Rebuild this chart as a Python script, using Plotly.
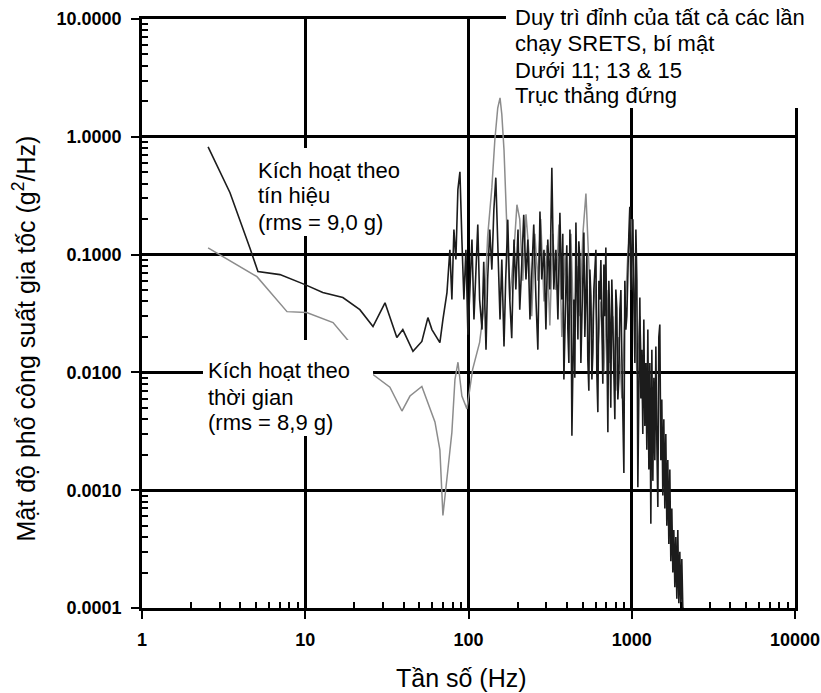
import plotly.graph_objects as go

# Signal-triggered run (black trace): frequency in Hz, PSD in g^2/Hz
sig_freq = [2.54, 3.46, 4.58, 5.13, 7.0, 9.97, 12.8, 17.0, 21.6, 26.0, 30.8, 36.4,
            39.6, 45.7, 51.8, 56.4, 59.7, 66.8, 69.7, 73.8,
            76.9, 79.1, 81.4, 83.7, 86.1, 88.6, 91.1, 93.7, 96.4, 99.2, 102, 105,
            108, 111, 114, 117, 121, 124, 128, 131, 135, 139, 143, 147, 151, 156,
            160, 165, 169, 174, 179, 184, 190, 195, 201, 206, 212, 218, 225, 231,
            238, 244, 251, 259, 266, 274, 281, 290, 298, 306, 315, 324, 333, 343,
            353,
            363, 368, 373, 378, 384, 389, 395, 400, 406, 412, 418, 424, 430, 436,
            442, 448, 455, 461, 468, 474, 481, 488, 495, 502, 509, 516, 524, 531,
            538, 546, 554, 562, 570, 578, 586, 594, 603, 611, 620, 629, 638, 647,
            656, 665, 675, 684, 694, 704, 714, 724, 734, 744, 755, 766, 777, 788,
            799, 810, 822, 834, 846, 858, 870, 882, 895, 907, 920, 933, 946, 960,
            973, 987, 1002, 1016, 1030, 1045, 1060, 1075, 1090, 1105,
            1121, 1137, 1153, 1169, 1186, 1203, 1220, 1237, 1255, 1273, 1291, 1309,
            1328, 1347, 1366, 1385, 1405, 1425, 1445, 1465, 1486, 1507, 1528, 1550,
            1572, 1594, 1617, 1640, 1663, 1687, 1711, 1735, 1760, 1785, 1810, 1836,
            1862, 1888, 1915, 1942, 1970, 1998, 2026, 2055, 2084]
sig_psd = [0.82, 0.335, 0.114, 0.0717, 0.0676, 0.0556, 0.0476, 0.0432, 0.0341, 0.0245,
           0.039, 0.0198, 0.0231, 0.0151, 0.0183, 0.0292, 0.0231, 0.0179, 0.0281, 0.0476,
           0.11, 0.0415, 0.163, 0.091, 0.356, 0.505, 0.134, 0.0415, 0.11, 0.0209, 0.0505,
           0.134, 0.0281, 0.0746, 0.18, 0.0415, 0.0231, 0.087, 0.0156, 0.0614, 0.163,
           0.0746, 0.24, 0.45, 0.11, 0.0281, 0.091, 0.0166, 0.0614, 0.198, 0.0415,
           0.0195, 0.134, 0.0505, 0.163, 0.0341, 0.0823, 0.218, 0.0614, 0.134, 0.0281,
           0.0746, 0.18, 0.0415, 0.0156, 0.232, 0.0614, 0.11, 0.0231, 0.134, 0.0505,
           0.545, 0.0505, 0.11, 0.0281,
           0.227, 0.06, 0.0415, 0.15, 0.0087, 0.02, 0.091, 0.12, 0.0231, 0.012,
           0.163, 0.07, 0.0029, 0.025, 0.0415, 0.009, 0.187, 0.06, 0.019, 0.13,
           0.091, 0.012, 0.0341, 0.08, 0.154, 0.02, 0.0415, 0.1, 0.0129, 0.007,
           0.0746, 0.045, 0.0087, 0.015, 0.0505, 0.07, 0.11, 0.01, 0.0046, 0.06,
           0.0415, 0.09, 0.0156, 0.008, 0.0823, 0.03, 0.115, 0.012, 0.0031, 0.06,
           0.0281, 0.005, 0.0614, 0.025, 0.0087, 0.004, 0.0505, 0.035, 0.0059, 0.009,
           0.0341, 0.05, 0.0129, 0.003, 0.0014, 0.06, 0.0231, 0.03, 0.091, 0.15,
           0.255, 0.05, 0.11, 0.2, 0.0415, 0.012, 0.163, 0.06, 0.00106, 0.005,
           0.0432, 0.006, 0.0156, 0.003, 0.0281, 0.0035,
           0.012, 0.0022, 0.0231, 0.0015, 0.012, 0.00052, 0.0156, 0.0012, 0.009, 0.0018,
           0.0166, 0.0025, 0.00072, 0.02, 0.0255, 0.0018, 0.0059, 0.0009, 0.004, 0.0007,
           0.003, 0.0005, 0.0018, 0.00035, 0.0015, 0.00025, 0.0007, 0.0002, 0.00046,
           0.00015, 0.0004, 0.00012, 0.00046, 0.00011, 0.0003, 0.0001, 0.00026, 0.0001,
           0.0001]

# Time-triggered run (grey trace)
time_freq = [2.54, 5.06, 7.73, 10.2, 14.8, 21.6, 26.0, 33.0, 39.1, 43.8, 51.8, 55.6,
             62.3, 66.8, 69.7, 74.8, 79.1, 82.6, 86.2, 91.1, 97.8, 106, 117, 126, 131,
             139, 145, 151, 156, 160, 165, 172, 179, 190, 198, 206, 215, 225, 235, 244,
             255, 266, 277, 290, 302, 315, 328, 343, 358, 373, 390, 406, 424, 442, 461,
             481, 502, 524, 546, 570, 594, 620, 647, 675, 704, 734, 766, 799, 834, 870,
             907, 946, 987, 1030, 1075, 1121, 1169, 1220, 1273]
time_psd = [0.114, 0.065, 0.0328, 0.0322, 0.0265, 0.0142, 0.0096, 0.0075, 0.0047, 0.0063,
            0.0076, 0.0059, 0.0038, 0.0022, 0.00061, 0.0015, 0.0031, 0.0087, 0.0122, 0.0063,
            0.0049, 0.0106, 0.018, 0.0415, 0.142, 0.37, 0.94, 1.75, 2.14, 1.55, 0.775,
            0.163, 0.0415, 0.11, 0.265, 0.2, 0.06, 0.22, 0.1, 0.03, 0.15, 0.06, 0.2, 0.04,
            0.12, 0.025, 0.15, 0.05, 0.18, 0.02, 0.1, 0.04, 0.15, 0.02, 0.08, 0.03, 0.15,
            0.33, 0.08, 0.02, 0.06, 0.015, 0.04, 0.01, 0.05, 0.012, 0.03, 0.007, 0.02,
            0.006, 0.03, 0.1, 0.2, 0.05, 0.01, 0.03, 0.005, 0.012, 0.004]

x_ticks = [1, 10, 100, 1000, 10000]
x_tick_text = ["1", "10", "100", "1000", "10000"]
y_ticks = [0.0001, 0.001, 0.01, 0.1, 1, 10]
y_tick_text = ["0.0001", "0.0010", "0.0100", "0.1000", "1.0000", "10.0000"]

# Text blocks: lines of each note
note_peak = ["Duy trì đỉnh của tất cả các lần", "chạy SRETS, bí mật",
             "Dưới 11; 13 & 15", "Trục thẳng đứng"]
note_signal = ["Kích hoạt theo", "tín hiệu", "(rms = 9,0 g)"]
note_time = ["Kích hoạt theo", "thời gian", "(rms = 8,9 g)"]

minor_x = [m * 10 ** k for k in range(4) for m in range(2, 10)]
minor_y = [m * 10.0 ** k for k in range(-4, 1) for m in range(2, 10)]

fig = go.Figure()
fig.add_trace(go.Scatter(x=time_freq, y=time_psd, mode="lines",
                         line=dict(color="#8c8c8c", width=1.5), showlegend=False))
fig.add_trace(go.Scatter(x=sig_freq, y=sig_psd, mode="lines",
                         line=dict(color="#1c1c1c", width=1.6), showlegend=False))

tick_font = dict(family="Liberation Sans, Arial", size=18, color="black", weight="bold")
note_font = dict(family="Liberation Sans, Arial", size=22, color="black")
title_font = dict(family="Liberation Sans, Arial", size=25, color="black")

common = dict(showline=True, linecolor="black", linewidth=2.5, mirror=True,
              showgrid=True, gridcolor="black", gridwidth=2.5,
              ticks="outside", ticklen=8, tickwidth=2, tickcolor="black",
              tickfont=tick_font, zeroline=False, ticklabelstandoff=6,
              automargin=False)
fig.update_xaxes(type="log", range=[0, 4], tickvals=x_ticks, ticktext=x_tick_text,
                 minor=dict(tickvals=minor_x, ticks="inside", ticklen=6, tickwidth=2,
                            tickcolor="black", showgrid=False), **common)
fig.update_yaxes(type="log", range=[-4, 1], tickvals=y_ticks, ticktext=y_tick_text,
                 minor=dict(tickvals=minor_y, ticks="inside", ticklen=6, tickwidth=2,
                            tickcolor="black", showgrid=False), **common)

# white panels behind the notes (they interrupt gridlines and the grey trace)
panels = [(0.5574, 1.04, 0.8489, 1.033),
          (0.1654, 0.4074, 0.6316, 0.781),
          (0.0934, 0.3538, 0.292, 0.455)]
for x0, x1, y0, y1 in panels:
    fig.add_shape(type="rect", xref="paper", yref="paper", x0=x0, x1=x1, y0=y0, y1=y1,
                  fillcolor="white", line=dict(width=0), layer="above")

def add_note(lines, x, y_positions):
    for text, y in zip(lines, y_positions):
        fig.add_annotation(text=text, xref="paper", yref="paper", x=x, y=y,
                           xanchor="left", yanchor="middle", showarrow=False,
                           align="left", font=note_font)

add_note(note_peak, 0.568, [1.0017, 0.9576, 0.9134, 0.8693])
add_note(note_signal, 0.1746, [0.7436, 0.6995, 0.6553])
add_note(note_time, 0.098, [0.4024, 0.3582, 0.3141])

fig.add_annotation(text="Tần số (Hz)", xref="paper", yref="paper", x=0.49, y=-0.1188,
                   xanchor="center", yanchor="middle", showarrow=False, font=title_font)
fig.add_annotation(text="Mật độ phổ công suất gia tốc (g<sup>2</sup>/Hz)",
                   xref="paper", yref="paper", x=-0.18, y=0.4584, textangle=-90,
                   xanchor="center", yanchor="middle", showarrow=False, font=title_font)

fig.update_layout(width=821, height=693, margin=dict(l=142, r=26, t=19, b=85),
                  paper_bgcolor="white", plot_bgcolor="white")

fig.write_html("out.html")
